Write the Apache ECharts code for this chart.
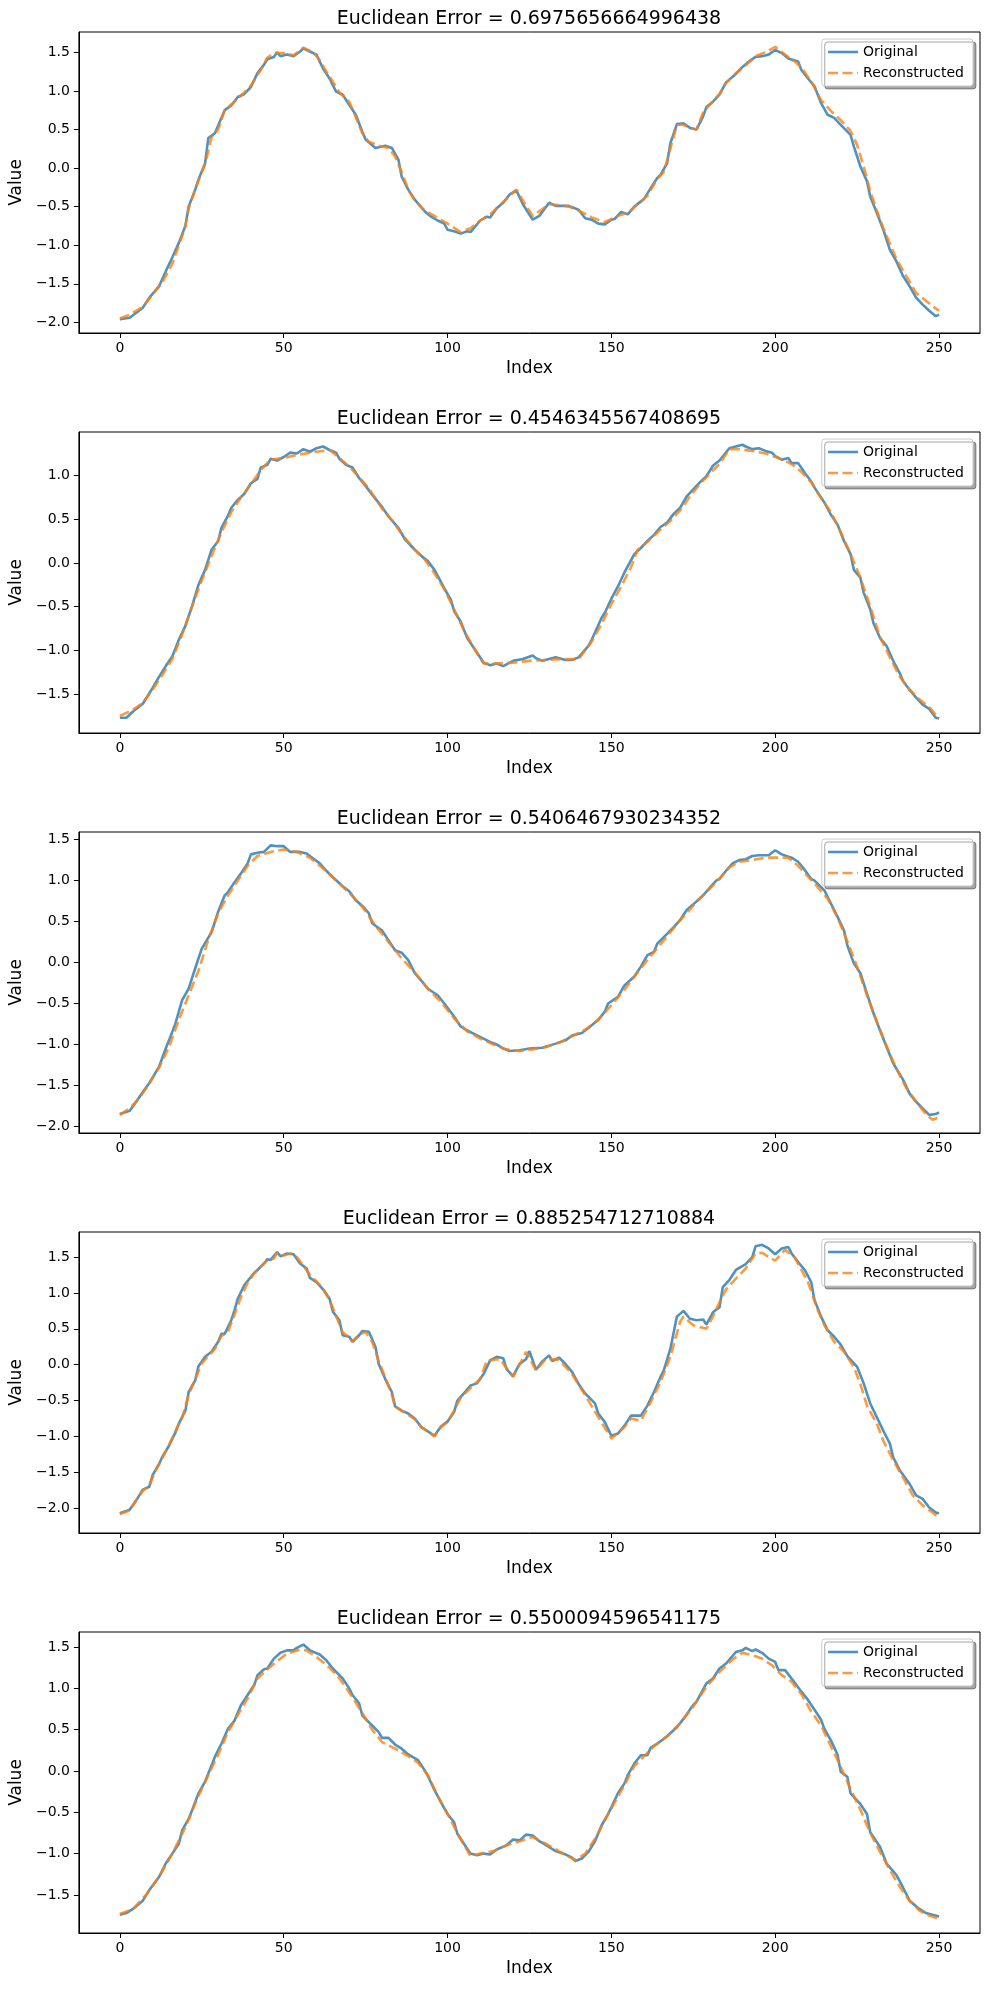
<!DOCTYPE html>
<html>
<head>
<meta charset="utf-8">
<title>Euclidean Error</title>
<script src="https://cdn.jsdelivr.net/npm/echarts@6/dist/echarts.min.js"></script>
<style>
	html, body {
		margin: 0;
		padding: 0;
		background: #fff;
	}
	#main {
		width: 989px;
		height: 1989px;
	}
</style>
</head>
<body>
<div id="main"></div>
<script>
	// tick values shared by all panels
	var xTicks = [0, 50, 100, 150, 200, 250];
	var yTicks = [-2.0, -1.5, -1.0, -0.5, 0.0, 0.5, 1.0, 1.5];
	var errors = ['0.6975656664996438', '0.4546345567408695', '0.5406467930234352', '0.885254712710884', '0.5500094596541175'];
	// value range of each panel's y axis
	var yMin = [-2.138, -1.945, -2.081, -2.345, -1.961];
	var yMax = [1.763, 1.496, 1.593, 1.849, 1.682];

	// [index, value]
	var orig1 = [[0,-1.96],[3,-1.94],[7,-1.81],[9,-1.68],[12,-1.53],[14,-1.34],[16,-1.16],[18,-0.97],[20,-0.75],[21,-0.5],[23,-0.28],[24,-0.15],[26,0.06],[27,0.39],[29,0.45],[32,0.75],[34,0.81],[36,0.92],[38,0.96],[40,1.05],[42,1.23],[44,1.34],[45,1.41],[47,1.44],[48,1.5],[49,1.45],[51,1.47],[53,1.45],[55,1.51],[56,1.55],[58,1.51],[60,1.47],[62,1.29],[64,1.16],[66,0.99],[68,0.95],[70,0.82],[72,0.69],[74,0.47],[75,0.37],[78,0.26],[81,0.29],[83,0.26],[85,0.11],[86,-0.11],[88,-0.28],[90,-0.41],[93,-0.56],[95,-0.63],[97,-0.68],[99,-0.72],[100,-0.8],[102,-0.82],[104,-0.85],[106,-0.82],[107,-0.83],[110,-0.68],[112,-0.63],[113,-0.64],[115,-0.52],[117,-0.45],[119,-0.34],[121,-0.29],[123,-0.47],[126,-0.67],[128,-0.62],[131,-0.45],[133,-0.49],[137,-0.49],[140,-0.54],[142,-0.65],[144,-0.67],[146,-0.72],[148,-0.73],[150,-0.67],[151,-0.66],[153,-0.57],[155,-0.6],[157,-0.5],[160,-0.4],[162,-0.26],[164,-0.13],[165,-0.09],[167,0.06],[168,0.32],[170,0.57],[172,0.58],[174,0.52],[176,0.5],[178,0.67],[179,0.79],[181,0.86],[183,0.95],[185,1.11],[188,1.22],[190,1.31],[192,1.38],[194,1.44],[196,1.45],[198,1.47],[200,1.53],[202,1.49],[204,1.42],[207,1.38],[208,1.27],[210,1.16],[212,1.06],[214,0.84],[216,0.69],[218,0.65],[220,0.56],[223,0.43],[224,0.28],[226,0.02],[228,-0.17],[229,-0.37],[231,-0.58],[233,-0.8],[235,-1.06],[237,-1.21],[239,-1.4],[241,-1.53],[243,-1.68],[245,-1.77],[247,-1.85],[249,-1.92],[250,-1.9]];
	var rec1 = [[0,-1.95],[3,-1.9],[7,-1.8],[10,-1.64],[13,-1.48],[16,-1.24],[18,-1.0],[20,-0.76],[21,-0.52],[23,-0.28],[24,-0.16],[26,0.05],[28,0.4],[30,0.5],[32,0.75],[35,0.86],[38,0.98],[40,1.07],[43,1.27],[45,1.43],[47,1.49],[50,1.49],[53,1.46],[56,1.56],[59,1.5],[61,1.4],[63,1.25],[65,1.12],[67,0.98],[70,0.86],[72,0.66],[74,0.45],[76,0.34],[79,0.29],[82,0.26],[84,0.15],[86,-0.05],[88,-0.28],[90,-0.42],[93,-0.55],[96,-0.62],[100,-0.72],[104,-0.83],[107,-0.78],[110,-0.68],[113,-0.6],[116,-0.48],[118,-0.4],[121,-0.28],[123,-0.42],[126,-0.62],[128,-0.56],[131,-0.47],[134,-0.48],[137,-0.5],[140,-0.55],[144,-0.64],[148,-0.7],[152,-0.62],[155,-0.58],[158,-0.47],[161,-0.36],[164,-0.14],[166,-0.05],[168,0.25],[170,0.56],[172,0.56],[174,0.52],[176,0.5],[178,0.72],[180,0.82],[183,0.96],[185,1.1],[188,1.23],[191,1.33],[194,1.45],[197,1.5],[200,1.57],[203,1.47],[206,1.38],[208,1.3],[211,1.12],[214,0.88],[217,0.74],[220,0.62],[223,0.48],[225,0.3],[227,0.02],[229,-0.3],[231,-0.55],[233,-0.78],[235,-0.98],[237,-1.18],[240,-1.4],[243,-1.62],[246,-1.72],[248,-1.79],[250,-1.85]];

	var orig2 = [[0,-1.77],[2,-1.77],[4,-1.7],[7,-1.61],[9,-1.49],[10,-1.43],[12,-1.3],[14,-1.18],[16,-1.07],[18,-0.88],[20,-0.72],[22,-0.5],[24,-0.25],[26,-0.08],[28,0.15],[30,0.25],[31,0.4],[33,0.54],[34,0.63],[36,0.72],[38,0.79],[40,0.91],[42,0.96],[43,1.09],[45,1.12],[46,1.19],[48,1.17],[50,1.21],[52,1.26],[54,1.25],[56,1.3],[58,1.27],[60,1.31],[62,1.33],[64,1.29],[66,1.26],[67,1.19],[69,1.12],[71,1.09],[73,0.97],[75,0.88],[77,0.78],[80,0.64],[82,0.53],[85,0.4],[87,0.27],[90,0.15],[92,0.08],[94,0.02],[96,-0.08],[97,-0.15],[99,-0.29],[101,-0.42],[102,-0.55],[104,-0.67],[106,-0.86],[108,-0.97],[111,-1.14],[113,-1.17],[115,-1.15],[117,-1.18],[120,-1.12],[123,-1.1],[126,-1.06],[127,-1.09],[129,-1.12],[133,-1.08],[136,-1.11],[138,-1.11],[140,-1.08],[143,-0.95],[144,-0.88],[147,-0.63],[148,-0.57],[150,-0.41],[152,-0.27],[154,-0.11],[157,0.1],[159,0.17],[161,0.25],[163,0.32],[165,0.41],[167,0.46],[169,0.56],[171,0.63],[173,0.76],[175,0.84],[177,0.92],[179,0.99],[181,1.11],[183,1.17],[186,1.31],[188,1.33],[190,1.35],[191,1.33],[193,1.3],[195,1.31],[197,1.28],[199,1.26],[200,1.22],[202,1.18],[204,1.2],[205,1.14],[207,1.14],[209,1.03],[211,0.93],[212,0.86],[215,0.69],[217,0.55],[219,0.44],[221,0.25],[223,0.1],[224,-0.08],[226,-0.17],[227,-0.34],[229,-0.53],[230,-0.69],[232,-0.86],[234,-0.95],[236,-1.12],[238,-1.26],[239,-1.35],[241,-1.45],[243,-1.54],[245,-1.62],[247,-1.67],[249,-1.77],[250,-1.78]];
	var rec2 = [[0,-1.75],[4,-1.68],[7,-1.6],[10,-1.45],[13,-1.28],[16,-1.1],[19,-0.82],[22,-0.5],[25,-0.2],[28,0.08],[31,0.35],[34,0.58],[37,0.75],[40,0.9],[43,1.06],[46,1.18],[50,1.2],[55,1.24],[60,1.27],[64,1.29],[67,1.2],[70,1.1],[73,0.98],[76,0.85],[80,0.62],[83,0.49],[86,0.33],[90,0.15],[93,0.04],[96,-0.12],[99,-0.3],[102,-0.53],[105,-0.77],[108,-0.97],[111,-1.15],[115,-1.15],[120,-1.14],[125,-1.12],[130,-1.11],[135,-1.1],[140,-1.1],[142,-1.0],[144,-0.9],[147,-0.7],[150,-0.47],[153,-0.27],[156,-0.05],[158,0.15],[161,0.24],[165,0.38],[168,0.48],[171,0.6],[174,0.76],[177,0.9],[180,1.02],[183,1.13],[186,1.3],[189,1.3],[193,1.28],[197,1.25],[201,1.2],[205,1.13],[208,1.04],[211,0.92],[214,0.74],[217,0.58],[220,0.35],[223,0.1],[226,-0.17],[229,-0.5],[232,-0.85],[235,-1.08],[238,-1.3],[241,-1.45],[244,-1.56],[247,-1.65],[250,-1.78]];

	var orig3 = [[0,-1.85],[3,-1.81],[5,-1.7],[7,-1.58],[9,-1.47],[12,-1.27],[14,-1.05],[15,-0.95],[17,-0.74],[19,-0.46],[21,-0.32],[23,-0.07],[25,0.17],[28,0.37],[30,0.62],[32,0.82],[33,0.86],[35,0.98],[37,1.09],[39,1.21],[40,1.32],[42,1.34],[44,1.35],[46,1.43],[48,1.42],[50,1.42],[52,1.35],[55,1.35],[57,1.33],[59,1.27],[61,1.21],[63,1.12],[65,1.04],[68,0.93],[70,0.87],[72,0.76],[74,0.69],[76,0.6],[77,0.48],[80,0.39],[82,0.27],[84,0.15],[86,0.12],[88,0.03],[90,-0.13],[92,-0.22],[94,-0.32],[97,-0.4],[99,-0.5],[102,-0.66],[104,-0.78],[106,-0.83],[109,-0.89],[111,-0.93],[113,-0.97],[115,-1.0],[117,-1.05],[119,-1.08],[122,-1.07],[125,-1.05],[129,-1.04],[133,-0.99],[136,-0.95],[138,-0.89],[141,-0.86],[143,-0.8],[146,-0.7],[148,-0.6],[149,-0.5],[152,-0.42],[154,-0.28],[157,-0.17],[159,-0.05],[161,0.09],[163,0.13],[164,0.23],[167,0.35],[169,0.43],[171,0.52],[173,0.64],[175,0.71],[178,0.82],[180,0.91],[182,1.0],[183,1.02],[185,1.12],[187,1.21],[189,1.25],[191,1.26],[193,1.3],[195,1.31],[198,1.31],[200,1.37],[202,1.32],[205,1.28],[207,1.23],[209,1.13],[211,1.02],[212,1.0],[215,0.88],[217,0.72],[219,0.56],[221,0.39],[222,0.21],[224,-0.01],[226,-0.13],[228,-0.38],[230,-0.62],[232,-0.83],[234,-1.03],[236,-1.23],[239,-1.43],[241,-1.6],[243,-1.7],[245,-1.78],[247,-1.86],[249,-1.85],[250,-1.83]];
	var rec3 = [[0,-1.86],[3,-1.78],[6,-1.65],[9,-1.48],[12,-1.28],[15,-1.03],[18,-0.7],[21,-0.4],[24,-0.1],[27,0.28],[30,0.6],[33,0.82],[36,1.0],[39,1.18],[42,1.3],[46,1.35],[50,1.38],[54,1.35],[58,1.28],[62,1.15],[66,1.0],[70,0.85],[74,0.68],[78,0.45],[82,0.25],[86,0.05],[90,-0.12],[94,-0.32],[98,-0.48],[102,-0.68],[106,-0.84],[110,-0.93],[114,-1.0],[118,-1.06],[122,-1.08],[126,-1.06],[130,-1.03],[134,-0.98],[138,-0.9],[142,-0.82],[146,-0.7],[150,-0.52],[154,-0.33],[158,-0.12],[162,0.08],[166,0.27],[170,0.47],[174,0.65],[178,0.82],[182,0.98],[186,1.16],[189,1.23],[193,1.25],[197,1.28],[201,1.28],[204,1.28],[207,1.18],[210,1.05],[213,0.92],[216,0.78],[219,0.55],[222,0.26],[225,-0.05],[228,-0.4],[231,-0.72],[234,-1.02],[237,-1.3],[240,-1.53],[243,-1.7],[246,-1.85],[248,-1.92],[250,-1.89]];

	var orig4 = [[0,-2.07],[3,-2.02],[5,-1.89],[7,-1.74],[9,-1.7],[10,-1.54],[12,-1.38],[13,-1.28],[15,-1.13],[17,-0.94],[18,-0.82],[20,-0.64],[21,-0.38],[23,-0.22],[24,-0.02],[26,0.11],[28,0.18],[30,0.32],[31,0.43],[32,0.43],[34,0.62],[35,0.76],[36,0.92],[38,1.11],[41,1.28],[42,1.32],[44,1.41],[45,1.47],[46,1.46],[48,1.57],[49,1.51],[51,1.55],[53,1.54],[55,1.41],[57,1.34],[58,1.21],[60,1.15],[62,1.05],[64,0.92],[65,0.74],[67,0.62],[68,0.41],[70,0.39],[71,0.32],[73,0.41],[74,0.47],[76,0.46],[78,0.25],[79,0.01],[81,-0.2],[83,-0.38],[84,-0.58],[86,-0.64],[88,-0.68],[90,-0.75],[92,-0.87],[94,-0.93],[96,-0.99],[98,-0.86],[100,-0.79],[102,-0.66],[103,-0.5],[105,-0.4],[107,-0.29],[109,-0.26],[111,-0.13],[113,0.06],[115,0.11],[117,0.09],[118,-0.06],[120,-0.16],[122,0.01],[124,0.08],[125,0.19],[127,-0.07],[129,0.05],[131,0.13],[132,0.05],[134,0.1],[136,0.01],[138,-0.1],[140,-0.27],[142,-0.4],[145,-0.54],[146,-0.68],[148,-0.8],[150,-0.99],[152,-0.96],[154,-0.85],[156,-0.71],[159,-0.71],[161,-0.57],[163,-0.38],[165,-0.17],[166,-0.08],[168,0.22],[170,0.67],[172,0.75],[174,0.64],[176,0.62],[178,0.63],[179,0.56],[181,0.73],[183,0.8],[184,1.08],[186,1.18],[188,1.32],[191,1.4],[193,1.5],[194,1.65],[196,1.67],[198,1.62],[200,1.54],[202,1.62],[204,1.64],[205,1.55],[207,1.43],[209,1.32],[211,1.15],[212,0.9],[214,0.67],[216,0.48],[218,0.39],[220,0.28],[222,0.12],[225,-0.03],[227,-0.26],[229,-0.54],[231,-0.73],[233,-0.92],[235,-1.1],[236,-1.29],[238,-1.47],[241,-1.66],[243,-1.82],[245,-1.87],[247,-1.99],[249,-2.06],[250,-2.07]];
	var rec4 = [[0,-2.08],[3,-2.03],[5,-1.89],[7,-1.76],[9,-1.68],[11,-1.47],[13,-1.3],[15,-1.12],[17,-0.92],[19,-0.74],[21,-0.42],[23,-0.2],[25,0.02],[27,0.12],[29,0.22],[31,0.4],[33,0.46],[35,0.7],[37,0.95],[39,1.14],[41,1.27],[43,1.37],[45,1.45],[47,1.48],[48,1.56],[50,1.52],[52,1.55],[54,1.5],[56,1.38],[58,1.25],[60,1.16],[62,1.06],[64,0.9],[66,0.68],[68,0.45],[70,0.38],[71,0.32],[73,0.42],[75,0.46],[77,0.32],[79,0.05],[81,-0.18],[83,-0.42],[84,-0.58],[86,-0.64],[88,-0.7],[90,-0.76],[92,-0.87],[94,-0.93],[96,-1.0],[98,-0.87],[100,-0.8],[102,-0.64],[104,-0.46],[106,-0.37],[108,-0.28],[110,-0.2],[112,0.06],[116,0.08],[120,-0.17],[124,0.18],[127,-0.08],[130,0.08],[134,0.07],[138,-0.13],[143,-0.5],[146,-0.73],[150,-1.03],[154,-0.87],[156,-0.75],[159,-0.78],[162,-0.52],[165,-0.24],[168,0.11],[171,0.6],[172,0.67],[175,0.55],[179,0.5],[181,0.67],[183,0.87],[185,1.05],[188,1.2],[191,1.34],[194,1.55],[196,1.56],[198,1.5],[200,1.45],[203,1.6],[206,1.49],[208,1.32],[210,1.15],[213,0.76],[215,0.55],[218,0.32],[221,0.18],[224,-0.03],[226,-0.27],[228,-0.57],[231,-0.82],[233,-1.06],[236,-1.33],[239,-1.57],[242,-1.82],[245,-1.96],[248,-2.06],[250,-2.13]];

	var orig5 = [[0,-1.74],[2,-1.72],[4,-1.67],[7,-1.57],[9,-1.44],[12,-1.28],[14,-1.12],[16,-1.0],[18,-0.88],[19,-0.72],[21,-0.58],[22,-0.48],[24,-0.27],[26,-0.13],[27,-0.03],[29,0.17],[31,0.33],[33,0.51],[35,0.61],[37,0.8],[39,0.92],[41,1.04],[42,1.16],[44,1.23],[45,1.24],[47,1.36],[49,1.43],[51,1.46],[53,1.46],[54,1.49],[56,1.53],[58,1.46],[61,1.41],[63,1.34],[65,1.24],[66,1.2],[68,1.12],[70,1.0],[71,0.92],[73,0.82],[74,0.67],[77,0.55],[79,0.47],[80,0.4],[82,0.4],[84,0.32],[86,0.27],[88,0.2],[91,0.13],[93,0.01],[94,-0.06],[96,-0.23],[98,-0.38],[100,-0.52],[102,-0.62],[103,-0.76],[105,-0.88],[107,-1.0],[109,-1.02],[111,-1.0],[113,-1.01],[115,-0.95],[118,-0.9],[120,-0.83],[122,-0.84],[124,-0.77],[126,-0.78],[128,-0.85],[131,-0.92],[133,-0.97],[136,-1.01],[138,-1.05],[139,-1.09],[141,-1.06],[143,-0.98],[145,-0.85],[147,-0.66],[149,-0.52],[150,-0.44],[152,-0.27],[154,-0.15],[155,-0.05],[157,0.09],[159,0.19],[161,0.19],[162,0.28],[164,0.33],[167,0.42],[170,0.53],[172,0.63],[175,0.8],[176,0.84],[179,1.06],[181,1.12],[183,1.24],[185,1.3],[188,1.44],[190,1.46],[191,1.49],[193,1.45],[194,1.47],[196,1.43],[198,1.36],[200,1.32],[201,1.22],[203,1.22],[205,1.12],[208,0.96],[210,0.86],[212,0.74],[214,0.62],[215,0.51],[217,0.37],[219,0.2],[220,-0.01],[222,-0.07],[223,-0.27],[226,-0.4],[228,-0.52],[229,-0.74],[232,-0.92],[234,-1.12],[237,-1.26],[239,-1.41],[241,-1.57],[244,-1.67],[246,-1.72],[248,-1.74],[250,-1.76]];
	var rec5 = [[0,-1.73],[4,-1.67],[8,-1.5],[12,-1.28],[16,-1.0],[20,-0.68],[24,-0.3],[27,-0.05],[30,0.2],[33,0.47],[36,0.68],[39,0.88],[42,1.12],[45,1.23],[48,1.33],[51,1.42],[55,1.47],[57,1.46],[60,1.38],[64,1.25],[67,1.12],[70,0.95],[74,0.7],[77,0.5],[80,0.35],[84,0.27],[88,0.18],[91,0.1],[94,-0.05],[97,-0.3],[100,-0.52],[103,-0.75],[107,-1.03],[110,-1.0],[114,-0.97],[118,-0.9],[122,-0.85],[126,-0.8],[130,-0.88],[134,-0.97],[139,-1.08],[142,-1.0],[145,-0.82],[148,-0.6],[151,-0.38],[154,-0.17],[157,0.06],[160,0.18],[163,0.3],[167,0.42],[171,0.58],[175,0.78],[179,1.02],[183,1.2],[187,1.35],[190,1.43],[193,1.4],[196,1.36],[199,1.28],[202,1.16],[205,1.08],[208,0.93],[211,0.72],[214,0.55],[217,0.3],[220,0.05],[223,-0.22],[226,-0.47],[229,-0.75],[232,-0.98],[235,-1.2],[238,-1.4],[241,-1.57],[244,-1.69],[247,-1.75],[250,-1.79]];

	var origAll = [orig1, orig2, orig3, orig4, orig5];
	var recAll = [rec1, rec2, rec3, rec4, rec5];

	var FONT = 'DejaVu Sans';
	var BLUE = '#1f77b4';
	var ORANGE = '#ff7f0e';

	function tickFmt(v) {
		return (v < 0 ? '\u2212' : '') + Math.abs(v).toFixed(1);
	}

	function buildOption() {
		var option = {
			backgroundColor: '#fff',
			animation: false,
			title: [],
			legend: [],
			grid: [],
			xAxis: [],
			yAxis: [],
			series: []
		};

		for (var k = 0; k < 5; k++) {
			var plotTop = 32 + 400 * k;
			var lo = yMin[k], hi = yMax[k];
			var yt = yTicks.filter(function (t) { return t >= lo && t <= hi; });

			option.title.push({
				text: 'Euclidean Error = ' + errors[k],
				left: 529,
				top: plotTop - 22,
				textAlign: 'center',
				padding: 0,
				textStyle: { fontFamily: FONT, fontSize: 19, fontWeight: 'normal', color: '#000' }
			});

			option.legend.push({
				data: ['Original', 'Reconstructed'],
				orient: 'vertical',
				right: 16,
				top: plotTop + 7,
				itemWidth: 30,
				itemHeight: 12,
				itemGap: 7,
				padding: [6, 9, 6, 5],
				backgroundColor: '#ffffff',
				borderColor: '#cccccc',
				borderWidth: 1,
				borderRadius: 3,
				shadowColor: 'rgba(0,0,0,0.35)',
				shadowBlur: 0,
				shadowOffsetX: 3,
				shadowOffsetY: 3,
				// hide the marker circle, keep only the line sample
				itemStyle: { opacity: 0, borderWidth: 0 },
				lineStyle: { width: 2.6 },
				textStyle: { fontFamily: FONT, fontSize: 14, color: '#000' }
			});

			option.grid.push({
				left: 78,
				top: plotTop,
				width: 902,
				height: 301,
				show: true,
				borderColor: '#000',
				borderWidth: 1,
				backgroundColor: 'transparent'
			});

			option.xAxis.push({
				type: 'value',
				gridIndex: k,
				min: -12.5,
				max: 262.5,
				name: 'Index',
				nameLocation: 'middle',
				nameGap: 27,
				nameTextStyle: { fontFamily: FONT, fontSize: 17, color: '#000' },
				axisLine: { show: true, onZero: false, lineStyle: { color: '#000', width: 1 } },
				axisTick: { show: true, inside: false, length: 5, customValues: xTicks, lineStyle: { color: '#000', width: 1 } },
				axisLabel: { customValues: xTicks, margin: 8, fontFamily: FONT, fontSize: 14, color: '#000' },
				splitLine: { show: false }
			});

			option.yAxis.push({
				type: 'value',
				gridIndex: k,
				min: lo,
				max: hi,
				name: 'Value',
				nameLocation: 'middle',
				nameGap: 52,
				nameTextStyle: { fontFamily: FONT, fontSize: 17, color: '#000' },
				axisLine: { show: true, onZero: false, lineStyle: { color: '#000', width: 1 } },
				axisTick: { show: true, inside: false, length: 5, customValues: yt, lineStyle: { color: '#000', width: 1 } },
				axisLabel: { customValues: yt, margin: 9, fontFamily: FONT, fontSize: 14, color: '#000', formatter: tickFmt },
				splitLine: { show: false }
			});

			option.series.push({
				name: 'Original',
				type: 'line',
				xAxisIndex: k,
				yAxisIndex: k,
				data: origAll[k],
				symbol: 'none',
				itemStyle: { color: BLUE, opacity: 0.8 },
				lineStyle: { color: BLUE, width: 2.6, opacity: 0.8 }
			});
			option.series.push({
				name: 'Reconstructed',
				type: 'line',
				xAxisIndex: k,
				yAxisIndex: k,
				data: recAll[k],
				symbol: 'none',
				itemStyle: { color: ORANGE, opacity: 0.8 },
				lineStyle: { color: ORANGE, width: 2.6, opacity: 0.8, type: [10, 4.5] }
			});
		}
		return option;
	}

	var myChart = echarts.init(document.getElementById('main'));
	myChart.setOption(buildOption());
</script>
</body>
</html>
